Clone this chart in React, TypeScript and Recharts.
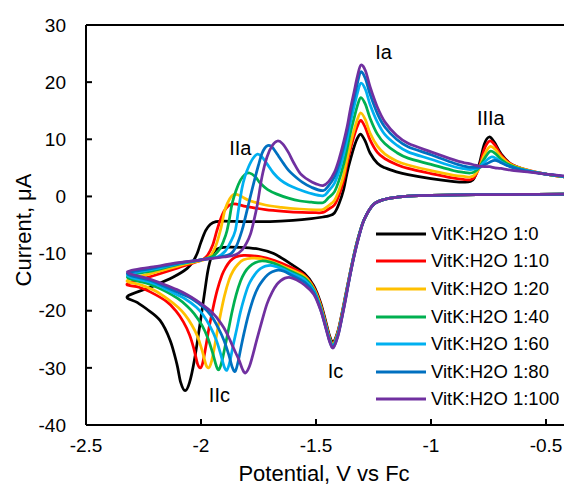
import React from "react";
import { LineChart, Line, XAxis, YAxis, ReferenceLine, ReferenceDot, Legend, Label } from "recharts";

type Pt = [number, number];

const FONT = "'Liberation Sans', Arial, sans-serif";

const SERIES_NAMES = [
  "VitK:H2O 1:0",
  "VitK:H2O 1:10",
  "VitK:H2O 1:20",
  "VitK:H2O 1:40",
  "VitK:H2O 1:60",
  "VitK:H2O 1:80",
  "VitK:H2O 1:100",
];
const SERIES_COLORS = ["#000000", "#FF0000", "#FFC000", "#00B050", "#00B0F0", "#0070C0", "#7030A0"];

const X_TICKS = [-2.5, -2, -1.5, -1, -0.5];
const Y_TICKS = [-40, -30, -20, -10, 0, 10, 20, 30];

// each scan: cathodic sweep from the right end to the vertex, then anodic sweep back
const k0Cathodic: Pt[] = [
  [-0.42, 0.4], [-0.6, 0.35], [-0.8, 0.3], [-1.0, 0.2], [-1.1, 0.05], [-1.15, -0.15], [-1.2, -0.5],
  [-1.25, -1.4], [-1.29, -4.0], [-1.315, -7.0], [-1.335, -10.2], [-1.355, -14.0], [-1.372, -17.4],
  [-1.39, -21.0], [-1.405, -23.6], [-1.425, -25.5], [-1.44, -24.5], [-1.455, -22.3], [-1.48, -18.6],
  [-1.51, -15.6], [-1.55, -13.5], [-1.61, -11.8], [-1.684, -10.0], [-1.75, -9.2], [-1.829, -8.9],
  [-1.902, -8.9], [-1.935, -9.3], [-1.955, -10.6], [-1.97, -13.0], [-1.985, -17.0], [-2.005, -22.5],
  [-2.028, -28.5], [-2.05, -32.6], [-2.069, -34.0], [-2.088, -32.6], [-2.105, -29.3], [-2.134, -25.2],
  [-2.178, -21.7], [-2.236, -19.7], [-2.28, -18.5], [-2.32, -17.5],
];
const k0Anodic: Pt[] = [
  [-2.221, -15.9], [-2.12, -14.1], [-2.06, -12.6], [-2.032, -11.2], [-2.015, -9.8], [-2.0, -8.0],
  [-1.98, -6.0], [-1.96, -4.9], [-1.935, -4.4], [-1.9, -4.3], [-1.8, -4.4], [-1.7, -4.4], [-1.6, -4.2],
  [-1.52, -3.9], [-1.47, -3.6], [-1.445, -3.4], [-1.42, -2.9], [-1.4, -1.3], [-1.38, 1.2], [-1.364, 4.3],
  [-1.35, 6.5], [-1.335, 8.6], [-1.32, 10.2], [-1.305, 10.9], [-1.285, 9.6], [-1.265, 7.6], [-1.233, 5.8],
  [-1.2, 5.0], [-1.15, 4.3], [-1.1, 3.8], [-1.0, 3.1], [-0.9, 2.6], [-0.856, 2.5], [-0.83, 2.6],
  [-0.812, 3.2], [-0.79, 5.7], [-0.768, 9.2], [-0.747, 10.4], [-0.725, 9.5], [-0.696, 7.5], [-0.653, 5.7],
  [-0.58, 4.55], [-0.5, 3.9], [-0.42, 3.4],
];

const k10Cathodic: Pt[] = [
  [-0.42, 0.4], [-0.6, 0.35], [-0.8, 0.3], [-1.0, 0.2], [-1.1, 0.05], [-1.15, -0.15], [-1.2, -0.5],
  [-1.25, -1.4], [-1.29, -4.0], [-1.315, -7.1], [-1.335, -10.3], [-1.355, -14.1], [-1.372, -17.6],
  [-1.39, -21.2], [-1.405, -23.8], [-1.425, -25.8], [-1.44, -24.8], [-1.455, -22.6], [-1.48, -18.9],
  [-1.51, -15.9], [-1.55, -13.8], [-1.61, -12.4], [-1.68, -11.2], [-1.75, -10.5], [-1.815, -10.3],
  [-1.85, -10.6], [-1.873, -11.3], [-1.892, -12.4], [-1.909, -13.8], [-1.93, -16.5], [-1.948, -19.6],
  [-1.965, -23.0], [-1.98, -26.5], [-1.993, -29.2], [-2.003, -30.0], [-2.015, -29.3], [-2.032, -26.5],
  [-2.05, -24.2], [-2.076, -22.0], [-2.11, -20.0], [-2.149, -18.4], [-2.221, -16.7], [-2.27, -15.9],
  [-2.32, -15.3],
];
const k10Anodic: Pt[] = [
  [-2.2, -13.8], [-2.1, -12.5], [-2.03, -11.6], [-1.99, -11.0], [-1.97, -10.2], [-1.95, -8.6],
  [-1.931, -6.0], [-1.915, -4.0], [-1.9, -2.6], [-1.88, -1.6], [-1.86, -1.3], [-1.84, -1.4], [-1.8, -1.8],
  [-1.72, -2.3], [-1.64, -2.6], [-1.56, -2.8], [-1.5, -2.85], [-1.47, -2.8], [-1.445, -2.2], [-1.42, -1.5],
  [-1.4, 0.2], [-1.38, 2.8], [-1.364, 5.9], [-1.35, 8.3], [-1.335, 10.5], [-1.32, 12.3], [-1.305, 13.3],
  [-1.285, 12.0], [-1.265, 9.9], [-1.233, 7.7], [-1.2, 6.6], [-1.15, 5.6], [-1.1, 4.9], [-1.0, 4.0],
  [-0.9, 3.2], [-0.856, 2.95], [-0.83, 2.9], [-0.812, 3.3], [-0.79, 5.2], [-0.768, 8.3], [-0.745, 9.7],
  [-0.722, 9.0], [-0.696, 7.3], [-0.653, 5.7], [-0.58, 4.6], [-0.5, 3.9], [-0.42, 3.4],
];

const k20Cathodic: Pt[] = [
  [-0.42, 0.4], [-0.6, 0.35], [-0.8, 0.3], [-1.0, 0.2], [-1.1, 0.05], [-1.15, -0.15], [-1.2, -0.5],
  [-1.25, -1.4], [-1.29, -4.0], [-1.315, -7.1], [-1.335, -10.3], [-1.355, -14.2], [-1.372, -17.7],
  [-1.39, -21.3], [-1.405, -23.9], [-1.425, -25.9], [-1.44, -24.9], [-1.455, -22.8], [-1.48, -19.1],
  [-1.51, -16.1], [-1.55, -14.0], [-1.61, -12.8], [-1.68, -11.6], [-1.74, -10.9], [-1.78, -10.8],
  [-1.815, -11.1], [-1.84, -11.9], [-1.86, -13.0], [-1.878, -14.6], [-1.898, -17.4], [-1.915, -20.6],
  [-1.932, -24.2], [-1.947, -27.6], [-1.958, -29.4], [-1.967, -30.0], [-1.978, -29.5], [-1.995, -27.0],
  [-2.015, -24.5], [-2.04, -22.5], [-2.07, -20.7], [-2.1, -19.4], [-2.15, -17.8], [-2.2, -16.5],
  [-2.26, -15.5], [-2.32, -14.7],
];
const k20Anodic: Pt[] = [
  [-2.2, -13.3], [-2.1, -12.2], [-2.03, -11.5], [-1.98, -11.0], [-1.955, -10.2], [-1.935, -8.6],
  [-1.916, -6.0], [-1.905, -4.0], [-1.895, -2.2], [-1.875, -0.4], [-1.858, 0.35], [-1.84, 0.3],
  [-1.82, -0.1], [-1.79, -0.7], [-1.72, -1.5], [-1.65, -1.9], [-1.57, -2.2], [-1.5, -2.35], [-1.47, -2.3],
  [-1.445, -1.6], [-1.42, -0.7], [-1.4, 1.1], [-1.38, 3.7], [-1.364, 6.7], [-1.35, 9.2], [-1.335, 11.5],
  [-1.32, 13.5], [-1.305, 14.6], [-1.285, 13.4], [-1.265, 11.1], [-1.233, 8.8], [-1.2, 7.4], [-1.15, 6.2],
  [-1.1, 5.5], [-1.0, 4.5], [-0.9, 3.7], [-0.856, 3.5], [-0.83, 3.4], [-0.812, 3.7], [-0.79, 5.0],
  [-0.768, 7.3], [-0.743, 8.75], [-0.72, 8.2], [-0.696, 7.0], [-0.653, 5.6], [-0.58, 4.6], [-0.5, 3.9],
  [-0.42, 3.4],
];

const k40Cathodic: Pt[] = [
  [-0.42, 0.4], [-0.6, 0.35], [-0.8, 0.3], [-1.0, 0.2], [-1.1, 0.05], [-1.15, -0.15], [-1.2, -0.5],
  [-1.25, -1.4], [-1.29, -4.0], [-1.315, -7.1], [-1.335, -10.4], [-1.355, -14.3], [-1.372, -17.8],
  [-1.39, -21.5], [-1.405, -24.1], [-1.425, -26.1], [-1.44, -25.1], [-1.455, -23.0], [-1.48, -19.4],
  [-1.51, -16.3], [-1.55, -14.3], [-1.61, -13.1], [-1.66, -12.1], [-1.7, -11.5], [-1.735, -11.3],
  [-1.765, -11.6], [-1.79, -12.3], [-1.81, -13.3], [-1.828, -14.8], [-1.847, -17.2], [-1.864, -20.0],
  [-1.88, -23.2], [-1.897, -26.6], [-1.91, -29.0], [-1.922, -30.3], [-1.933, -29.7], [-1.95, -27.3],
  [-1.97, -24.8], [-1.995, -22.6], [-2.03, -20.5], [-2.06, -19.2], [-2.1, -17.9], [-2.15, -16.7],
  [-2.22, -15.4], [-2.32, -14.1],
];
const k40Anodic: Pt[] = [
  [-2.2, -12.9], [-2.1, -11.9], [-2.0, -11.1], [-1.95, -10.5], [-1.92, -9.3], [-1.9, -7.6], [-1.887, -6.0],
  [-1.876, -3.8], [-1.865, -1.3], [-1.848, 1.0], [-1.829, 2.8], [-1.81, 3.8], [-1.789, 4.1], [-1.765, 3.5],
  [-1.742, 2.3], [-1.71, 1.2], [-1.67, 0.4], [-1.62, -0.3], [-1.568, -0.8], [-1.52, -1.0], [-1.47, -1.1],
  [-1.445, -0.2], [-1.42, 0.8], [-1.4, 2.8], [-1.38, 5.6], [-1.364, 8.5], [-1.35, 11.2], [-1.335, 13.6],
  [-1.32, 15.9], [-1.305, 17.3], [-1.285, 16.1], [-1.265, 13.7], [-1.233, 10.9], [-1.2, 9.2],
  [-1.15, 7.7], [-1.1, 6.7], [-1.0, 5.6], [-0.9, 4.5], [-0.856, 4.2], [-0.83, 4.1], [-0.812, 4.3],
  [-0.79, 5.1], [-0.768, 6.6], [-0.743, 7.9], [-0.72, 7.5], [-0.696, 6.5], [-0.653, 5.4], [-0.58, 4.5],
  [-0.5, 3.9], [-0.42, 3.4],
];

const k60Cathodic: Pt[] = [
  [-0.42, 0.4], [-0.6, 0.35], [-0.8, 0.3], [-1.0, 0.2], [-1.1, 0.05], [-1.15, -0.15], [-1.2, -0.5],
  [-1.25, -1.4], [-1.29, -4.0], [-1.315, -7.2], [-1.335, -10.4], [-1.355, -14.3], [-1.372, -17.9],
  [-1.39, -21.6], [-1.405, -24.2], [-1.425, -26.2], [-1.44, -25.2], [-1.455, -23.1], [-1.48, -19.6],
  [-1.51, -16.5], [-1.55, -14.6], [-1.61, -13.4], [-1.65, -12.6], [-1.69, -12.1], [-1.72, -12.2],
  [-1.74, -12.6], [-1.757, -13.2], [-1.775, -14.2], [-1.793, -15.5], [-1.81, -17.5], [-1.829, -20.3],
  [-1.845, -23.3], [-1.86, -26.0], [-1.874, -28.8], [-1.887, -30.4], [-1.9, -29.7], [-1.915, -27.5],
  [-1.935, -25.0], [-1.96, -22.8], [-1.99, -20.8], [-2.02, -19.4], [-2.07, -17.9], [-2.12, -16.9],
  [-2.2, -15.3], [-2.32, -13.8],
];
const k60Anodic: Pt[] = [
  [-2.2, -12.7], [-2.1, -11.8], [-2.0, -11.1], [-1.93, -10.6], [-1.895, -9.6], [-1.872, -8.0],
  [-1.851, -6.0], [-1.838, -2.6], [-1.822, 1.4], [-1.808, 3.6], [-1.793, 5.2], [-1.775, 6.6],
  [-1.754, 7.4], [-1.735, 6.9], [-1.713, 5.7], [-1.685, 4.1], [-1.655, 2.9], [-1.62, 2.0], [-1.58, 1.3],
  [-1.53, 0.6], [-1.47, 0.1], [-1.445, 1.0], [-1.42, 2.3], [-1.4, 4.4], [-1.38, 7.3], [-1.364, 10.1],
  [-1.35, 13.0], [-1.335, 15.6], [-1.32, 18.1], [-1.305, 19.8], [-1.285, 18.7], [-1.265, 16.1],
  [-1.233, 13.0], [-1.2, 10.8], [-1.15, 9.0], [-1.1, 7.8], [-1.0, 6.5], [-0.9, 5.2], [-0.856, 4.85],
  [-0.83, 4.7], [-0.812, 4.8], [-0.79, 5.1], [-0.768, 6.0], [-0.738, 6.9], [-0.715, 6.6], [-0.69, 5.9],
  [-0.653, 5.2], [-0.58, 4.5], [-0.5, 3.9], [-0.42, 3.5],
];

const k80Cathodic: Pt[] = [
  [-0.42, 0.4], [-0.6, 0.35], [-0.8, 0.3], [-1.0, 0.2], [-1.1, 0.05], [-1.15, -0.15], [-1.2, -0.5],
  [-1.25, -1.4], [-1.29, -4.0], [-1.315, -7.2], [-1.335, -10.5], [-1.355, -14.4], [-1.372, -18.0],
  [-1.39, -21.7], [-1.405, -24.4], [-1.425, -26.4], [-1.44, -25.4], [-1.455, -23.3], [-1.48, -19.8],
  [-1.51, -16.8], [-1.55, -15.0], [-1.61, -13.7], [-1.64, -13.1], [-1.665, -12.9], [-1.69, -13.2],
  [-1.71, -13.7], [-1.73, -14.6], [-1.75, -15.8], [-1.77, -17.6], [-1.793, -20.6], [-1.81, -23.4],
  [-1.824, -26.0], [-1.838, -28.8], [-1.851, -30.6], [-1.864, -29.9], [-1.88, -27.6], [-1.9, -25.2],
  [-1.925, -23.0], [-1.955, -20.9], [-1.99, -19.4], [-2.04, -17.9], [-2.09, -17.0], [-2.15, -15.9],
  [-2.22, -14.7], [-2.32, -13.5],
];
const k80Anodic: Pt[] = [
  [-2.2, -12.5], [-2.1, -11.7], [-2.0, -11.1], [-1.92, -10.6], [-1.87, -10.0], [-1.845, -8.6],
  [-1.822, -6.0], [-1.808, -3.8], [-1.793, -1.3], [-1.778, 1.2], [-1.764, 3.4], [-1.75, 5.5],
  [-1.735, 7.5], [-1.722, 8.5], [-1.71, 8.9], [-1.695, 8.8], [-1.684, 8.3], [-1.662, 7.0], [-1.64, 5.7],
  [-1.62, 4.6], [-1.597, 3.7], [-1.56, 2.5], [-1.52, 1.6], [-1.47, 1.0], [-1.445, 1.9], [-1.42, 3.4],
  [-1.4, 5.6], [-1.38, 8.6], [-1.364, 11.4], [-1.35, 14.4], [-1.335, 17.1], [-1.32, 19.8], [-1.305, 21.8],
  [-1.285, 20.6], [-1.265, 17.9], [-1.233, 14.5], [-1.2, 12.1], [-1.15, 10.0], [-1.1, 8.7], [-1.0, 7.3],
  [-0.9, 5.8], [-0.856, 5.3], [-0.83, 5.1], [-0.812, 5.1], [-0.79, 5.1], [-0.768, 5.5], [-0.745, 6.0],
  [-0.722, 6.3], [-0.7, 6.0], [-0.67, 5.4], [-0.62, 4.8], [-0.55, 4.2], [-0.5, 3.9], [-0.42, 3.5],
];

const k100Cathodic: Pt[] = [
  [-0.42, 0.4], [-0.6, 0.35], [-0.8, 0.3], [-1.0, 0.2], [-1.1, 0.05], [-1.15, -0.15], [-1.2, -0.5],
  [-1.25, -1.4], [-1.29, -4.0], [-1.315, -7.3], [-1.335, -10.6], [-1.355, -14.5], [-1.372, -18.2],
  [-1.39, -21.8], [-1.405, -24.5], [-1.425, -26.5], [-1.44, -25.5], [-1.455, -23.4], [-1.48, -19.9],
  [-1.51, -17.1], [-1.55, -15.5], [-1.585, -14.6], [-1.611, -14.2], [-1.635, -14.3], [-1.655, -14.8],
  [-1.67, -15.4], [-1.69, -16.7], [-1.713, -18.8], [-1.735, -21.8], [-1.757, -25.0], [-1.775, -27.8],
  [-1.79, -29.8], [-1.807, -30.9], [-1.82, -30.2], [-1.835, -28.6], [-1.858, -26.6], [-1.88, -24.6],
  [-1.902, -22.9], [-1.93, -21.3], [-1.96, -20.0], [-2.02, -18.2], [-2.06, -17.2], [-2.105, -16.3],
  [-2.16, -15.4], [-2.22, -14.5], [-2.32, -13.2],
];
const k100Anodic: Pt[] = [
  [-2.2, -12.3], [-2.1, -11.6], [-2.0, -11.1], [-1.9, -10.6], [-1.85, -10.2], [-1.82, -9.3], [-1.8, -8.0],
  [-1.785, -6.6], [-1.772, -4.6], [-1.755, -1.4], [-1.735, 3.4], [-1.713, 6.9], [-1.69, 8.9],
  [-1.667, 9.7], [-1.645, 9.2], [-1.62, 7.7], [-1.597, 5.9], [-1.568, 4.0], [-1.53, 2.8], [-1.5, 2.2],
  [-1.47, 1.9], [-1.445, 2.6], [-1.42, 4.2], [-1.4, 6.5], [-1.38, 9.5], [-1.364, 12.3], [-1.35, 15.4],
  [-1.335, 18.2], [-1.32, 21.0], [-1.305, 23.0], [-1.285, 22.0], [-1.265, 19.2], [-1.233, 15.6],
  [-1.2, 13.0], [-1.15, 10.7], [-1.1, 9.3], [-1.0, 7.8], [-0.9, 6.4], [-0.856, 5.9], [-0.83, 5.7],
  [-0.812, 5.5], [-0.79, 5.3], [-0.768, 5.2], [-0.745, 5.2], [-0.722, 5.0], [-0.696, 4.9], [-0.653, 4.6],
  [-0.58, 4.3], [-0.5, 3.9], [-0.42, 3.6],
];

const PEAK_LABELS = [
  { text: "Ia", x: -1.206, y: 25.2 },
  { text: "IIa", x: -1.829, y: 8.4 },
  { text: "IIIa", x: -0.74, y: 13.8 },
  { text: "Ic", x: -1.415, y: -30.6 },
  { text: "IIc", x: -1.92, y: -34.8 },
];

const SCANS: Pt[][][] = [
  [k0Cathodic, k0Anodic],
  [k10Cathodic, k10Anodic],
  [k20Cathodic, k20Anodic],
  [k40Cathodic, k40Anodic],
  [k60Cathodic, k60Anodic],
  [k80Cathodic, k80Anodic],
  [k100Cathodic, k100Anodic],
];

const series = SCANS.map(([down, up], i) => ({
  name: SERIES_NAMES[i],
  color: SERIES_COLORS[i],
  data: [...down, ...up].map(([x, y]) => ({ x, y })),
}));

// catmull-rom through the points, works for loops where x turns back
const smoothCurve = (context: any) => {
  let pts: number[][] = [];
  return {
    areaStart() {},
    areaEnd() {},
    lineStart() {
      pts = [];
    },
    point(x: number, y: number) {
      pts.push([+x, +y]);
    },
    lineEnd() {
      const n = pts.length;
      if (!n) return;
      context.moveTo(pts[0][0], pts[0][1]);
      for (let i = 0; i < n - 1; i++) {
        const p0 = pts[Math.max(i - 1, 0)];
        const p1 = pts[i];
        const p2 = pts[i + 1];
        const p3 = pts[Math.min(i + 2, n - 1)];
        context.bezierCurveTo(
          p1[0] + (p2[0] - p0[0]) / 6,
          p1[1] + (p2[1] - p0[1]) / 6,
          p2[0] - (p3[0] - p1[0]) / 6,
          p2[1] - (p3[1] - p1[1]) / 6,
          p2[0],
          p2[1]
        );
      }
    },
  };
};

const XTick = (p: any) => (
  <g>
    <line x1={p.x} x2={p.x} y1={p.y} y2={p.y - 6} stroke="#000" strokeWidth={2} />
    <text x={p.x} y={p.y + 27} textAnchor="middle" fontSize={19} fontFamily={FONT} fill="#000">
      {p.payload.value}
    </text>
  </g>
);

const YTick = (p: any) => (
  <g>
    <line x1={p.x} x2={p.x + 6} y1={p.y} y2={p.y} stroke="#000" strokeWidth={2} />
    <text x={p.x - 20} y={p.y} dy="0.35em" textAnchor="end" fontSize={19} fontFamily={FONT} fill="#000">
      {p.payload.value}
    </text>
  </g>
);

const XTitle = () => (
  <text x={324} y={473} dy="0.35em" textAnchor="middle" fontSize={22} fontFamily={FONT} fill="#000">
    Potential, V vs Fc
  </text>
);

const YTitle = () => (
  <text
    transform="translate(23,230) rotate(-90)"
    dy="0.35em"
    textAnchor="middle"
    fontSize={22}
    fontFamily={FONT}
    fill="#000"
  >
    Current, μA
  </text>
);

const peakLabel = (text: string) => (props: any) => {
  const { x, y } = props.viewBox;
  return (
    <text x={x} y={y} dy="0.35em" textAnchor="middle" fontSize={20} fontFamily={FONT} fill="#000">
      {text}
    </text>
  );
};

const LegendBox = () => (
  <div style={{ fontFamily: FONT, fontSize: 18.5, color: "#000" }}>
    {series.map((s) => (
      <div key={s.name} style={{ display: "flex", alignItems: "center", height: 27.6 }}>
        <svg width={57} height={8}>
          <line x1={2} x2={52} y1={4} y2={4} stroke={s.color} strokeWidth={3} />
        </svg>
        <span style={{ whiteSpace: "nowrap" }}>{s.name}</span>
      </div>
    ))}
  </div>
);

export default function App() {
  return (
    <div
      style={{
        position: "absolute",
        left: 0,
        top: 0,
        width: 564,
        height: 487,
        overflow: "hidden",
        background: "#fff",
      }}
    >
      <LineChart width={569} height={487} margin={{ top: 25, right: 0, bottom: 0, left: 0 }}>
        <XAxis
          type="number"
          dataKey="x"
          domain={[-2.5, -0.4]}
          ticks={X_TICKS}
          interval={0}
          allowDataOverflow
          height={62}
          axisLine={{ stroke: "#000", strokeWidth: 2 }}
          tickLine={false}
          tickSize={0}
          tickMargin={0}
          tick={XTick}
        >
          <Label content={XTitle} />
        </XAxis>
        <YAxis
          type="number"
          domain={[-40, 30]}
          ticks={Y_TICKS}
          interval={0}
          allowDataOverflow
          width={86}
          axisLine={{ stroke: "#000", strokeWidth: 2 }}
          tickLine={false}
          tickSize={0}
          tickMargin={0}
          tick={YTick}
        >
          <Label content={YTitle} />
        </YAxis>
        <ReferenceLine y={30} stroke="#000" strokeWidth={2} />
        {series.map((s) => (
          <Line
            key={s.name}
            data={s.data}
            dataKey="y"
            name={s.name}
            type={smoothCurve as any}
            stroke={s.color}
            strokeWidth={2.75}
            dot={false}
            activeDot={false}
            isAnimationActive={false}
          />
        ))}
        {PEAK_LABELS.map((p) => (
          <ReferenceDot key={p.text} x={p.x} y={p.y} r={0} fill="none" stroke="none" label={peakLabel(p.text)} />
        ))}
        <Legend
          layout="horizontal"
          verticalAlign="middle"
          align="center"
          wrapperStyle={{ position: "absolute", left: 374, top: 220, width: 200 }}
          content={LegendBox}
        />
      </LineChart>
    </div>
  );
}
